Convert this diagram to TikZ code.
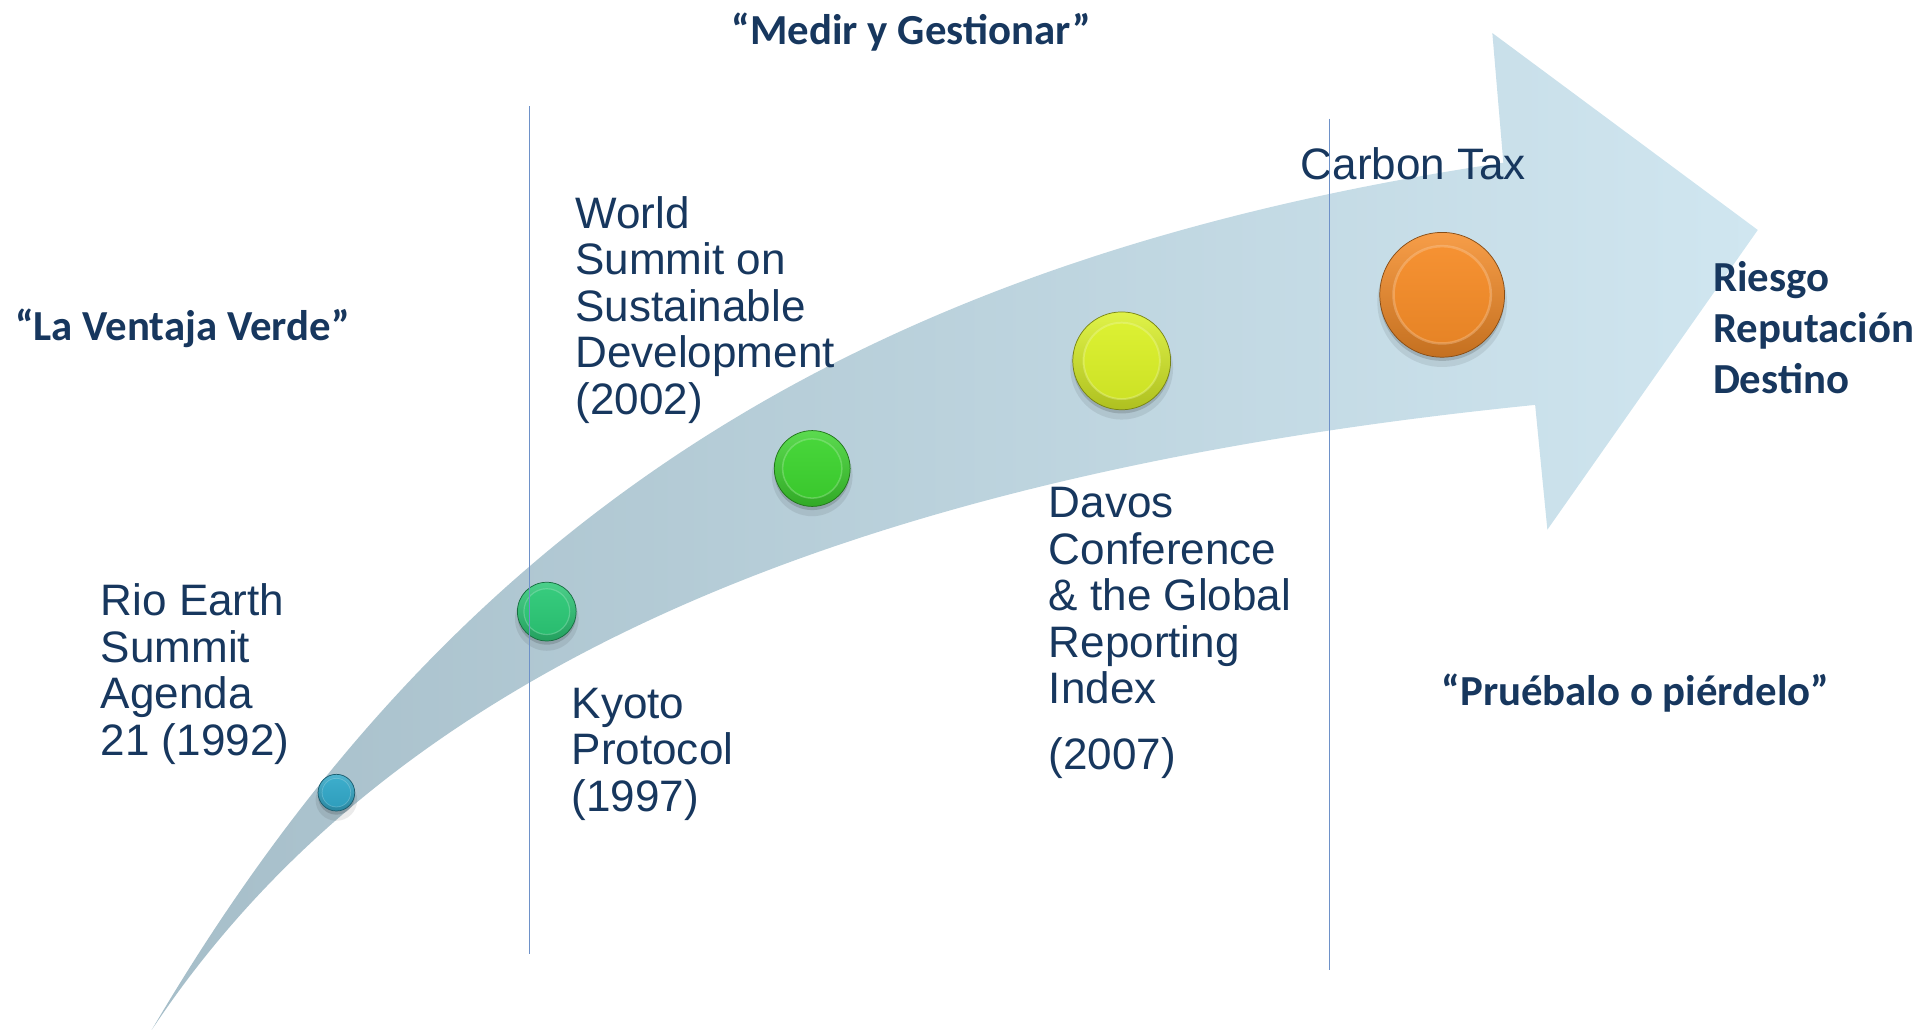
\documentclass[tikz,border=0pt]{standalone}
\usepackage{fontspec}
\setmainfont{Liberation Sans}
\newfontfamily\calfont{Carlito}
\definecolor{txt}{RGB}{23,55,94}
\definecolor{arL}{RGB}{166,190,201}
\definecolor{arM}{RGB}{186,210,221}
\definecolor{arR}{RGB}{208,230,240}
\definecolor{vln}{RGB}{110,145,200}
\definecolor{cblue}{RGB}{50,168,200}
\definecolor{cteal}{RGB}{44,200,118}
\definecolor{cgreen}{RGB}{62,212,48}
\definecolor{cyellow}{RGB}{218,240,40}
\definecolor{corange}{RGB}{245,140,40}
\newcommand\mybtn[4]{%
  \fill[black, opacity=0.08] (#1,#2+6) circle[radius=#3*0.5pt+1pt];
  \fill[black, opacity=0.14] (#1,#2+3) circle[radius=#3*0.5pt];
  \shade[top color=#4!85!white, bottom color=#4!80!black] (#1,#2) circle[radius=#3*0.5pt];
  \shade[top color=#4!95!white, bottom color=#4!94!black] (#1,#2) circle[radius=#3*0.39pt];
  \draw[#4!40!white, opacity=0.35, line width=#3*0.02pt] (#1,#2) circle[radius=#3*0.39pt];
  \draw[#4!55!black, line width=0.3pt] (#1,#2) circle[radius=#3*0.5pt];
}
\begin{document}
\begin{tikzpicture}[x=0.5pt,y=-0.5pt,
  lbl/.style={anchor=north west, align=left, inner sep=0pt, text=txt,
    font=\fontsize{18}{19}\selectfont},
  qt/.style={inner sep=0pt, text=txt, font=\calfont\bfseries\fontsize{17.5}{21}\selectfont},
  vline/.style={draw=vln, line width=0.5pt}]
\useasboundingbox (0,0) rectangle (1568,842);

% curved arrow
\path[left color=arL, middle color=arM, right color=arR]
  (124,842) .. controls (369,425) and (701,212) .. (1229,133)
  -- (1220,27) -- (1437,188) -- (1265,433) -- (1255,331)
  .. controls (620,395) and (294,586) .. (124,842)
  -- cycle;

% buttons
\mybtn{275}{648}{15}{cblue}
\mybtn{447}{500}{24}{cteal}
\mybtn{664}{383}{31}{cgreen}
\mybtn{917}{295}{40}{cyellow}
\mybtn{1179}{241}{51}{corange}

% labels
\node[lbl] (rio) at (82,477) {Rio Earth\\Summit\\Agenda\\21 (1992)};
\node[lbl] (wssd) at (470,160) {World\\Summit on\\Sustainable\\Development\\(2002)};
\node[lbl] (kyoto) at (467,562) {Kyoto\\Protocol\\(1997)};
\node[lbl] (davos) at (857,398) {Davos\\Conference\\\& the Global\\Reporting\\Index\\[8pt](2007)};
\node[lbl] (carbon) at (1063,120) {Carbon Tax};

\node[qt, anchor=base] (medir) at (745,36) {“Medir y Gestionar”};
\node[qt, anchor=base west] (ventaja) at (12,278) {“La Ventaja Verde”};
\node[qt, anchor=base] (prueba) at (1337,577) {“Pruébalo o piérdelo”};
\node[qt, anchor=north west, align=left] (riesgo) at (1400,213) {Riesgo\\Reputación\\Destino};

% vertical separators
\coordinate (l1t) at (433,87);
\coordinate (l1b) at (433,780);
\coordinate (l2t) at (1087,97);
\coordinate (l2b) at (1087,793);
\draw[vline] (l1t) -- (l1b);
\draw[vline] (l2t) -- (l2b);
\end{tikzpicture}
\end{document}
